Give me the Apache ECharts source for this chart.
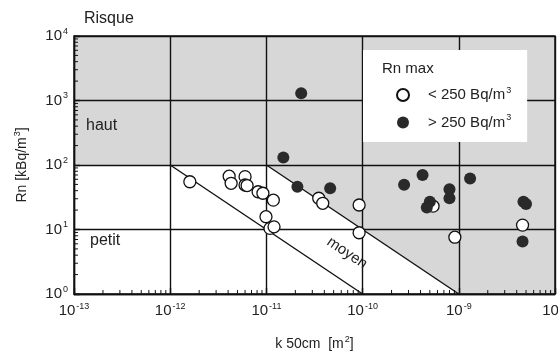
<!DOCTYPE html>
<html>
<head>
<meta charset="utf-8">
<script src="https://cdn.jsdelivr.net/npm/echarts@6/dist/echarts.min.js"></script>
<style>html,body{margin:0;padding:0;background:#fff}#c{width:558px;height:354px}</style>
</head>
<body>
<div id="c"></div>
<script>
// ---- data ----
var xExtent = [1e-13, 1e-8];
var yExtent = [1, 1e4];
// open circles: Rn max < 250 Bq/m3
var openK  = [1.6e-12, 4.1e-12, 4.3e-12, 6.0e-12, 6.0e-12, 6.3e-12, 8.2e-12, 9.2e-12, 1.18e-11, 9.9e-12, 1.09e-11, 1.2e-11, 3.5e-11, 3.85e-11, 9.2e-11, 9.2e-11, 9.1e-10, 4.6e-9, 5.4e-10];
var openRn = [55, 67, 52, 66, 49, 48, 38.5, 36.5, 28.5, 15.8, 10.4, 11, 30.5, 25.5, 24, 8.9, 7.6, 11.7, 23];
// filled circles: Rn max > 250 Bq/m3
var filledK  = [2.3e-11, 1.5e-11, 2.1e-11, 4.6e-11, 2.7e-10, 4.2e-10, 5.0e-10, 4.65e-10, 8.0e-10, 8.0e-10, 1.31e-9, 4.7e-9, 5.0e-9, 4.6e-9];
var filledRn = [1300, 131, 46, 43.5, 49.5, 70, 27, 22, 42, 30.5, 62, 27, 24.8, 6.5];
// risk boundaries (k * Rn = const)
var lowBoundary  = [[1e-12, 100], [1e-10, 1]];
var highBoundary = [[1e-11, 100], [1e-9, 1]];
// shaded high-risk region outline
var highRiskRegion = [[1e-13, 1e4], [1e-8, 1e4], [1e-8, 1], [1e-9, 1], [1e-11, 100], [1e-13, 100]];
var seriesNames = ['< 250 Bq/m3', '> 250 Bq/m3'];
var minorMultipliers = [2, 3, 4, 5, 6, 7, 8, 9];

function zip(a, b) { return a.map(function (v, i) { return [v, b[i]]; }); }
function minorTicks(ext) {
  var out = [];
  for (var d = ext[0]; d < ext[1] * 0.999; d *= 10) {
    minorMultipliers.forEach(function (m) { out.push(d * m); });
  }
  return out;
}
var xMinor = minorTicks(xExtent);
var yMinor = minorTicks(yExtent);

var FONT = 'Liberation Sans, Arial, sans-serif';
var supRich = {
  b: { fontSize: 15, fontFamily: FONT, color: '#222' },
  s: { fontSize: 9, fontFamily: FONT, color: '#222', padding: [0, 0, 9, 1] }
};
function expLabel(v) {
  var e = Math.round(Math.log10(v));
  return '{b|10}{s|' + e + '}';
}

var textElements = [
  { type: 'text', z: 10, left: 84, top: 11, style: { text: 'Risque', font: '16px ' + FONT, fill: '#222' } },
  { type: 'text', z: 10, left: 86, top: 118, style: { text: 'haut', font: '16px ' + FONT, fill: '#222' } },
  { type: 'text', z: 10, left: 90, top: 233, style: { text: 'petit', font: '16px ' + FONT, fill: '#222' } },
  { type: 'text', z: 10, x: 347, y: 253, rotation: -0.59, style: { text: 'moyen', font: '15px ' + FONT, fill: '#222', align: 'center', verticalAlign: 'middle' } },
  { type: 'text', z: 10, left: 382, top: 61, style: { text: 'Rn max', font: '15px ' + FONT, fill: '#222' } }
];

var chart = echarts.init(document.getElementById('c'));
chart.setOption({
  animation: false,
  grid: { left: 74, right: 3, top: 36, bottom: 60, outerBoundsMode: 'none', containLabel: false, show: true, borderColor: '#111', borderWidth: 1.4, backgroundColor: 'transparent', z: 1 },
  xAxis: {
    type: 'log', logBase: 10, min: xExtent[0], max: xExtent[1], z: 1,
    name: '{a|k 50cm  [m}{s|2}{a|]}', nameLocation: 'middle', nameGap: 41,
    nameTextStyle: { rich: { a: { fontSize: 14, fontFamily: FONT, color: '#222' }, s: supRich.s } },
    axisLine: { lineStyle: { color: '#111', width: 1.4 } },
    axisTick: { inside: true, length: 6, lineStyle: { color: '#111', width: 1.4 } },
    splitLine: { show: true, lineStyle: { color: '#111', width: 1.4 } },
    axisLabel: { margin: 8, formatter: expLabel, rich: supRich, hideOverlap: false }
  },
  yAxis: {
    type: 'log', logBase: 10, min: yExtent[0], max: yExtent[1], z: 1,
    name: '{a|Rn [kBq/m}{s|3}{a|]}', nameLocation: 'middle', nameGap: 43,
    nameTextStyle: { rich: { a: { fontSize: 14, fontFamily: FONT, color: '#222' }, s: supRich.s } },
    axisLine: { lineStyle: { color: '#111', width: 1.4 } },
    axisTick: { inside: true, length: 6, lineStyle: { color: '#111', width: 1.4 } },
    splitLine: { show: true, lineStyle: { color: '#111', width: 1.4 } },
    axisLabel: { margin: 6, formatter: expLabel, rich: supRich }
  },
  legend: {
    left: 363, top: 50, orient: 'vertical', z: 5,
    backgroundColor: '#fff', padding: [36, 16, 12, 33],
    itemWidth: 12, itemHeight: 12, itemGap: 11,
    data: seriesNames,
    formatter: function (n) { return '{a|' + n.slice(0, -1) + '}{s|3}'; },
    textStyle: { rich: { a: { fontSize: 15, fontFamily: FONT, color: '#222', padding: [0, 0, 0, 14] }, s: supRich.s } }
  },
  graphic: { elements: textElements },
  series: [
    {
      type: 'custom', z: 0, silent: true,
      data: [0],
      renderItem: function (params, api) {
        return {
          type: 'polygon',
          shape: { points: highRiskRegion.map(function (p) { return api.coord(p); }) },
          style: { fill: '#d7d7d7' }
        };
      }
    },
    { type: 'line', z: 2, data: lowBoundary, symbol: 'none', lineStyle: { color: '#111', width: 1.4 }, silent: true },
    { type: 'line', z: 2, data: highBoundary, symbol: 'none', lineStyle: { color: '#111', width: 1.4 }, silent: true },
    {
      name: seriesNames[0], type: 'scatter', z: 3, symbol: 'circle', symbolSize: 12,
      data: zip(openK, openRn),
      itemStyle: { color: '#fff', borderColor: '#111', borderWidth: 1.3, opacity: 1 }
    },
    {
      name: seriesNames[1], type: 'scatter', z: 4, symbol: 'circle', symbolSize: 12,
      data: zip(filledK, filledRn),
      itemStyle: { color: '#2a2a2a', borderColor: '#2a2a2a', borderWidth: 0, opacity: 1 }
    }
  ]
});

// minor log ticks, positioned through the chart's own axes
var tickElements = [];
xMinor.forEach(function (v) {
  var p = chart.convertToPixel({ gridIndex: 0 }, [v, yExtent[0]]);
  if (p) tickElements.push({ type: 'line', z: 8, shape: { x1: p[0], y1: p[1], x2: p[0], y2: p[1] - 4 }, style: { stroke: '#111', lineWidth: 1 } });
});
yMinor.forEach(function (v) {
  var p = chart.convertToPixel({ gridIndex: 0 }, [xExtent[0], v]);
  if (p) tickElements.push({ type: 'line', z: 8, shape: { x1: p[0], y1: p[1], x2: p[0] + 4, y2: p[1] }, style: { stroke: '#111', lineWidth: 1 } });
});
chart.setOption({ graphic: { elements: textElements.concat(tickElements) } });
</script>
</body>
</html>
